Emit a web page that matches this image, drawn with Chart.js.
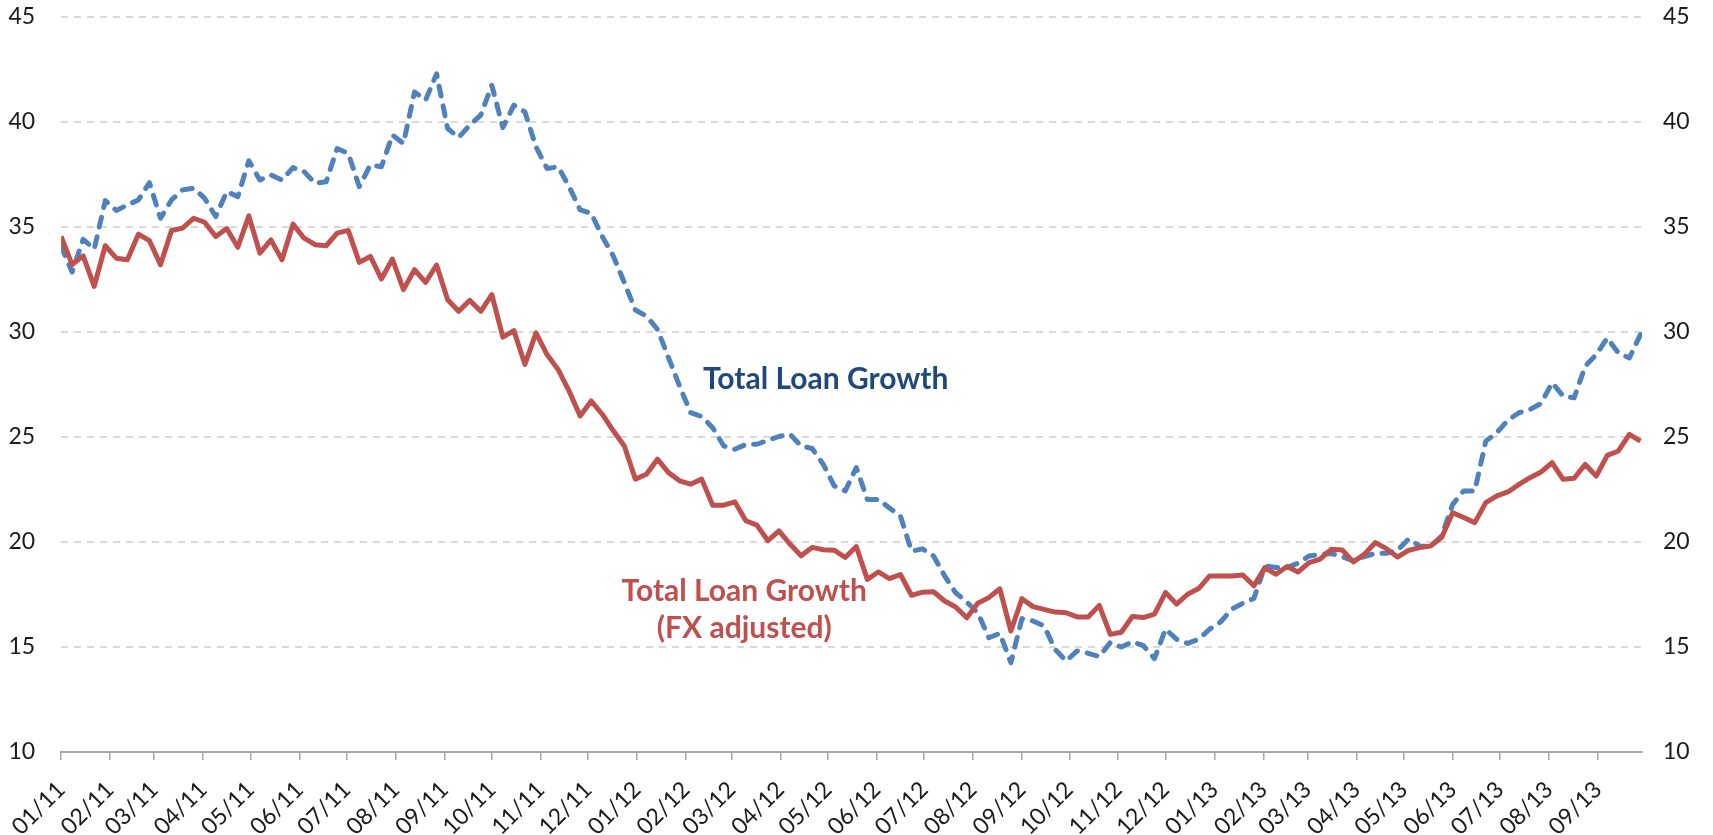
<!DOCTYPE html>
<html>
<head>
<meta charset="utf-8">
<script src="https://cdn.jsdelivr.net/npm/chart.js@4"></script>
<style>
  html, body { margin: 0; padding: 0; background: #fff; }
  #wrap { width: 1713px; height: 835px; position: relative; }
</style>
</head>
<body>
<div id="wrap"><canvas id="loanChart"></canvas></div>
<script>
// month tick labels (MM/YY), one tick at the first day of each month
const monthLabels = [
  '01/11', '02/11', '03/11', '04/11', '05/11', '06/11', '07/11', '08/11', '09/11', '10/11', '11/11', '12/11',
  '01/12', '02/12', '03/12', '04/12', '05/12', '06/12', '07/12', '08/12', '09/12', '10/12', '11/12', '12/12',
  '01/13', '02/13', '03/13', '04/13', '05/13', '06/13', '07/13', '08/13', '09/13'
];

// weekly observations, starting first week of Jan 2011 (% y/y)
const totalLoanGrowth = [
  34.07, 32.85, 34.41, 33.94, 36.25, 35.78, 36.04, 36.28, 37.10, 35.41,
  36.28, 36.76, 36.84, 36.36, 35.49, 36.68, 36.44, 38.15, 37.23, 37.47,
  37.23, 37.82, 37.63, 37.07, 37.15, 38.73, 38.50, 36.91, 37.94, 37.86,
  39.37, 38.97, 41.42, 41.03, 42.29, 39.68, 39.26, 39.84, 40.32, 41.74,
  39.73, 40.79, 40.47, 38.81, 37.78, 37.86, 36.91, 35.81, 35.65, 34.54,
  33.61, 32.34, 31.04, 30.75, 30.12, 28.77, 27.42, 26.16, 25.97, 25.44,
  24.57, 24.41, 24.64, 24.65, 24.84, 25.02, 25.13, 24.57, 24.45, 23.70,
  22.67, 22.43, 23.54, 22.02, 22.02, 21.62, 21.23, 19.56, 19.67, 19.33,
  18.38, 17.58, 17.14, 16.63, 15.44, 15.65, 14.25, 16.35, 16.24, 16.00,
  14.89, 14.33, 14.81, 14.70, 14.54, 15.21, 15.00, 15.25, 15.06, 14.45,
  15.85, 15.37, 15.17, 15.37, 15.85, 16.20, 16.80, 17.08, 17.31, 18.86,
  18.78, 18.78, 18.99, 19.33, 19.41, 19.45, 19.30, 19.10, 19.30, 19.46,
  19.46, 19.60, 20.13, 19.81, 19.78, 20.29, 21.79, 22.43, 22.43, 24.80,
  25.20, 25.80, 26.15, 26.31, 26.59, 27.58, 26.94, 26.86, 28.37, 28.92,
  29.71, 29.00, 28.76, 29.87
];

const fxAdjustedGrowth = [
  34.54, 33.20, 33.62, 32.17, 34.10, 33.51, 33.43, 34.65, 34.34, 33.20,
  34.83, 34.94, 35.41, 35.22, 34.54, 34.92, 34.03, 35.52, 33.75, 34.38,
  33.43, 35.13, 34.46, 34.15, 34.10, 34.70, 34.83, 33.31, 33.59, 32.52,
  33.47, 32.01, 32.96, 32.36, 33.18, 31.53, 30.98, 31.50, 30.98, 31.77,
  29.75, 30.06, 28.45, 29.95, 28.92, 28.21, 27.18, 26.00, 26.71, 26.08,
  25.29, 24.57, 22.99, 23.22, 23.94, 23.30, 22.91, 22.75, 22.99, 21.75,
  21.75, 21.91, 21.01, 20.80, 20.06, 20.53, 19.90, 19.34, 19.74, 19.63,
  19.61, 19.26, 19.78, 18.22, 18.57, 18.25, 18.45, 17.46, 17.61, 17.63,
  17.19, 16.90, 16.39, 17.08, 17.35, 17.77, 15.76, 17.30, 16.92, 16.79,
  16.66, 16.63, 16.43, 16.43, 16.98, 15.60, 15.70, 16.45, 16.40, 16.56,
  17.59, 17.04, 17.51, 17.78, 18.38, 18.38, 18.38, 18.43, 17.91, 18.78,
  18.46, 18.83, 18.57, 19.02, 19.18, 19.65, 19.62, 19.05, 19.41, 19.97,
  19.68, 19.28, 19.60, 19.73, 19.81, 20.21, 21.39, 21.16, 20.92, 21.87,
  22.19, 22.38, 22.74, 23.06, 23.33, 23.77, 22.98, 23.03, 23.69, 23.14,
  24.12, 24.33, 25.12, 24.80
];

const yTicks = [10, 15, 20, 25, 30, 35, 40, 45];

const DAY = 86400000;
const start = Date.UTC(2011, 0, 1);
// x axis is "days since 1 Jan 2011"
const monthDays = monthLabels.map(l => {
  const m = parseInt(l.slice(0, 2), 10) - 1;
  const y = 2000 + parseInt(l.slice(3), 10);
  return Math.round((Date.UTC(y, m, 1) - start) / DAY);
});
const toPoints = arr => arr.map((v, i) => ({ x: i * 7, y: v }));

const FONT = 'Lato';
const CLEAR = 'rgba(0,0,0,0)';

// text labels next to the lines, anchored in data space
const lineLabels = [
  { lines: ['Total Loan Growth'], x: 484.6, y: 27.26, color: '#1F497D' },
  { lines: ['Total Loan Growth', '(FX adjusted)'], x: 433, y: 17.21, color: '#C0504D' }
];

const labelPlugin = {
  id: 'lineLabels',
  afterDatasetsDraw(chart) {
    const { ctx, scales } = chart;
    ctx.save();
    ctx.font = 'bold 30px ' + FONT;
    ctx.textAlign = 'center';
    ctx.textBaseline = 'alphabetic';
    lineLabels.forEach(l => {
      const px = scales.x.getPixelForValue(l.x);
      const py = scales.y.getPixelForValue(l.y);
      ctx.fillStyle = l.color;
      l.lines.forEach((t, k) => ctx.fillText(t, px, py + k * 37));
    });
    ctx.restore();
  }
};

const ctx = document.getElementById('loanChart');

new Chart(ctx, {
  type: 'line',
  data: {
    datasets: [
      {
        label: 'Total Loan Growth (FX adjusted)',
        data: toPoints(fxAdjustedGrowth),
        borderColor: '#C0504D',
        borderWidth: 5,
        pointRadius: 0,
        tension: 0,
        borderJoinStyle: 'round'
      },
      {
        label: 'Total Loan Growth',
        data: toPoints(totalLoanGrowth),
        borderColor: '#4F81BD',
        borderWidth: 5,
        borderDash: [10, 10],
        borderCapStyle: 'round',
        pointRadius: 0,
        tension: 0,
        borderJoinStyle: 'round'
      }
    ]
  },
  options: {
    responsive: true,
    maintainAspectRatio: false,
    animation: false,
    layout: { padding: 0 },
    plugins: {
      legend: { display: false },
      tooltip: { enabled: false }
    },
    scales: {
      x: {
        type: 'linear',
        min: 0,
        max: 1002,
        afterBuildTicks: scale => { scale.ticks = monthDays.map(v => ({ value: v })); },
        afterFit: scale => { scale.height = 83; },
        grid: {
          drawOnChartArea: false,
          drawTicks: true,
          tickLength: 8,
          color: '#A6A6A6',
          lineWidth: 1.5
        },
        border: { display: true, color: '#A6A6A6', width: 2 },
        ticks: {
          autoSkip: false,
          minRotation: 45,
          maxRotation: 45,
          padding: 16,
          color: '#1a1a1a',
          font: { family: FONT, size: 23 },
          callback: (value, index) => monthLabels[index]
        }
      },
      y: {
        position: 'left',
        min: 10,
        max: 45,
        afterBuildTicks: scale => { scale.ticks = yTicks.map(v => ({ value: v })); },
        afterFit: scale => { scale.width = 61; },
        grid: {
          drawTicks: true,
          tickLength: 23,
          tickColor: CLEAR,
          color: c => (c.tick && c.tick.value === 10 ? CLEAR : '#D9D9D9'),
          lineWidth: 2
        },
        border: { display: false, dash: [7, 6] },
        ticks: {
          padding: 3,
          color: '#1a1a1a',
          font: { family: FONT, size: 23 }
        }
      },
      y2: {
        position: 'right',
        min: 10,
        max: 45,
        afterBuildTicks: scale => { scale.ticks = yTicks.map(v => ({ value: v })); },
        afterFit: scale => { scale.width = 71; },
        grid: {
          drawOnChartArea: false,
          drawTicks: true,
          tickLength: 18,
          tickColor: CLEAR,
          color: CLEAR
        },
        border: { display: false },
        ticks: {
          padding: 3,
          color: '#1a1a1a',
          font: { family: FONT, size: 23 }
        }
      }
    }
  },
  plugins: [labelPlugin]
});
</script>
</body>
</html>
